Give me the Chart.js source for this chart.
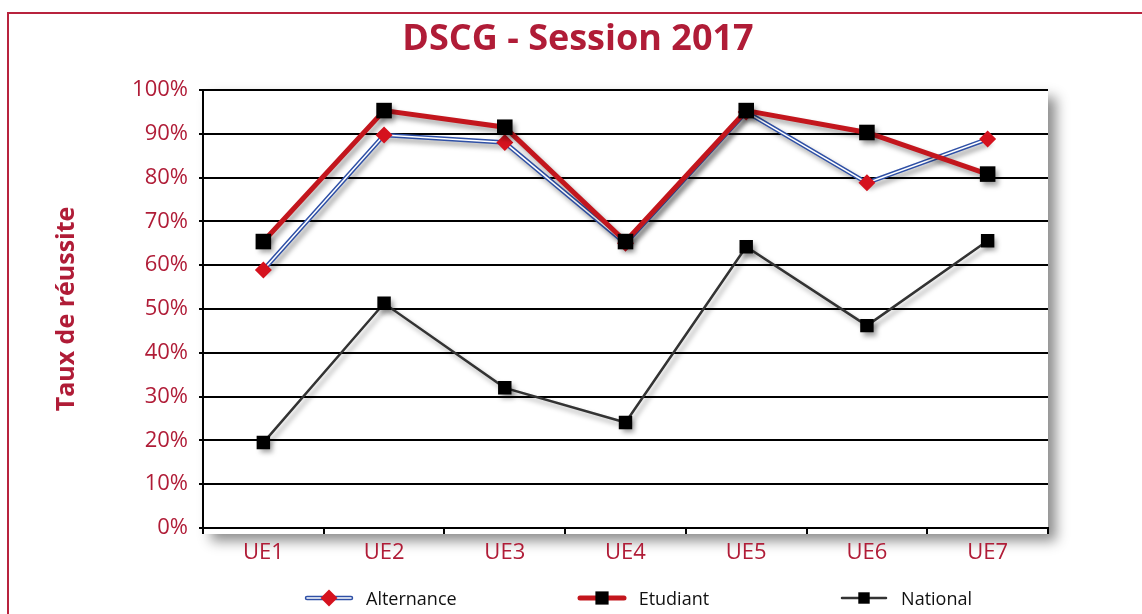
<!DOCTYPE html>
<html lang="fr">
<head>
    <meta charset="UTF-8">
    <title>DSCG - Session 2017</title>
    <script src="https://cdn.jsdelivr.net/npm/chart.js"></script>
    <style>
        html, body {
            margin: 0;
            padding: 0;
            background: #fff;
            overflow: hidden;
            font-family: 'Open Sans', 'DejaVu Sans', sans-serif;
        }
        .frame {
            position: absolute;
            left: 7px;
            top: 12px;
            width: 1200px;
            height: 700px;
            border: 2px solid #b8233d;
        }
        .chart-wrap {
            position: absolute;
            left: 0;
            top: 0;
            width: 1142px;
            height: 614px;
        }
        #legend {
            position: absolute;
            left: 304px;
            top: 586px;
            display: flex;
            align-items: center;
            font-size: 18px;
            color: #111;
        }
        #legend .item {
            display: flex;
            align-items: center;
            gap: 12px;
        }
        #legend .item + .item { margin-left: 120px; }
        #legend .item:last-child { margin-left: 130px; }
        #legend canvas { display: block; }
    </style>
</head>
<body>
    <div class="frame"></div>
    <div class="chart-wrap"><canvas id="dscgChart"></canvas></div>
    <div id="legend"></div>
    <script>
        // Taux de réussite par UE
        const categories = ['UE1', 'UE2', 'UE3', 'UE4', 'UE5', 'UE6', 'UE7'];
        const alternance = [58.9, 89.7, 88.0, 65.0, 95.0, 78.8, 88.8];
        const etudiant = [65.4, 95.3, 91.5, 65.4, 95.3, 90.3, 80.8];
        const national = [19.5, 51.3, 32.0, 24.1, 64.2, 46.2, 65.6];

        const RED = '#b01c37';
        const FONT = "'Open Sans', 'DejaVu Sans', sans-serif";

        // white plot area with a soft drop shadow
        const plotShadow = {
            id: 'plotShadow',
            beforeDraw(chart) {
                const { ctx, chartArea: a } = chart;
                ctx.save();
                ctx.shadowColor = 'rgba(0,0,0,0.45)';
                ctx.shadowBlur = 12;
                ctx.shadowOffsetX = 8;
                ctx.shadowOffsetY = 7;
                ctx.fillStyle = '#fff';
                ctx.fillRect(a.left, a.top, a.width, a.height + 6);
                ctx.restore();
            }
        };

        // light shadow under the series
        const lineShadow = {
            id: 'lineShadow',
            beforeDatasetDraw(chart, args) {
                if (chart.data.datasets[args.index].noShadow) return;
                const ctx = chart.ctx;
                ctx.save();
                ctx.shadowColor = 'rgba(0,0,0,0.35)';
                ctx.shadowBlur = 5;
                ctx.shadowOffsetX = 3;
                ctx.shadowOffsetY = 4;
            },
            afterDatasetDraw(chart, args) {
                if (chart.data.datasets[args.index].noShadow) return;
                chart.ctx.restore();
            }
        };

        const chart = new Chart(document.getElementById('dscgChart'), {
            type: 'line',
            data: {
                labels: categories,
                datasets: [
                    {
                        label: 'Etudiant',
                        data: etudiant,
                        borderColor: '#c3161d',
                        borderWidth: 5,
                        pointStyle: 'rect',
                        pointRadius: 11,
                        pointBorderWidth: 0,
                        pointBackgroundColor: '#000',
                        order: 1
                    },
                    {
                        label: 'Alternance',
                        data: alternance,
                        borderColor: '#fff',
                        borderWidth: 1.5,
                        pointStyle: 'rectRot',
                        pointRadius: 8.5,
                        pointBorderWidth: 0,
                        pointBackgroundColor: '#d5121e',
                        noShadow: true,
                        order: 2
                    },
                    {
                        label: 'Alternance',
                        data: alternance,
                        borderColor: '#2f50a6',
                        borderWidth: 4.5,
                        pointRadius: 0,
                        legendSkip: true,
                        order: 3
                    },
                    {
                        label: 'National',
                        data: national,
                        borderColor: '#333',
                        borderWidth: 2.5,
                        pointStyle: 'rect',
                        pointRadius: 9.5,
                        pointBorderWidth: 0,
                        pointBackgroundColor: '#000',
                        order: 4
                    }
                ]
            },
            options: {
                responsive: true,
                maintainAspectRatio: false,
                animation: false,
                layout: { padding: { left: 108, right: 94, top: 0, bottom: 46 } },
                plugins: {
                    legend: { display: false },
                    tooltip: { enabled: false },
                    title: {
                        display: true,
                        text: 'DSCG - Session 2017',
                        color: RED,
                        font: { family: FONT, size: 36, weight: 'bold' },
                        padding: { top: 18, bottom: 28.8 }
                    }
                },
                scales: {
                    x: {
                        offset: true,
                        grid: {
                            offset: true,
                            drawOnChartArea: false,
                            color: '#000',
                            lineWidth: 2,
                            tickLength: 6
                        },
                        border: { color: '#000', width: 2 },
                        ticks: {
                            color: RED,
                            font: { family: FONT, size: 22 },
                            padding: 6
                        },
                        afterFit: s => { s.height = 40; }
                    },
                    y: {
                        min: 0,
                        max: 100,
                        ticks: {
                            stepSize: 10,
                            color: RED,
                            font: { family: FONT, size: 22 },
                            padding: 11,
                            callback: v => v + '%'
                        },
                        grid: { color: '#000', lineWidth: 2, tickLength: 4 },
                        border: { color: '#000', width: 2 },
                        title: {
                            display: true,
                            text: 'Taux de réussite',
                            color: RED,
                            font: { family: FONT, size: 25, weight: 'bold' },
                            padding: { top: -56, bottom: 0 }
                        },
                        afterFit: s => { s.width = 95; }
                    }
                }
            },
            plugins: [plotShadow, lineShadow]
        });

        // HTML legend built from the datasets
        function drawIcon(canvas, ds) {
            const c = canvas.getContext('2d');
            const w = canvas.width, h = canvas.height, y = h / 2;
            const line = (color, width) => {
                c.strokeStyle = color;
                c.lineWidth = width;
                c.lineCap = 'round';
                c.beginPath();
                c.moveTo(3, y);
                c.lineTo(w - 3, y);
                c.stroke();
            };
            if (ds.label === 'Alternance') {
                line('#2f50a6', 4.5);
                line('#fff', 1.5);
            } else {
                line(ds.borderColor, ds.borderWidth);
            }
            c.fillStyle = ds.pointBackgroundColor;
            const r = ds.pointRadius;
            c.beginPath();
            if (ds.pointStyle === 'rectRot') {
                c.moveTo(w / 2, y - r);
                c.lineTo(w / 2 + r, y);
                c.lineTo(w / 2, y + r);
                c.lineTo(w / 2 - r, y);
            } else {
                const s = r * Math.SQRT1_2 * 0.85;
                c.rect(w / 2 - s, y - s, 2 * s, 2 * s);
            }
            c.fill();
        }

        const legendEl = document.getElementById('legend');
        const legendOrder = ['Alternance', 'Etudiant', 'National'];
        legendOrder.forEach(name => {
            const ds = chart.data.datasets.find(d => d.label === name && !d.legendSkip);
            const item = document.createElement('div');
            item.className = 'item';
            const icon = document.createElement('canvas');
            icon.width = 50;
            icon.height = 20;
            drawIcon(icon, ds);
            const text = document.createElement('span');
            text.textContent = name;
            item.appendChild(icon);
            item.appendChild(text);
            legendEl.appendChild(item);
        });
    </script>
</body>
</html>
